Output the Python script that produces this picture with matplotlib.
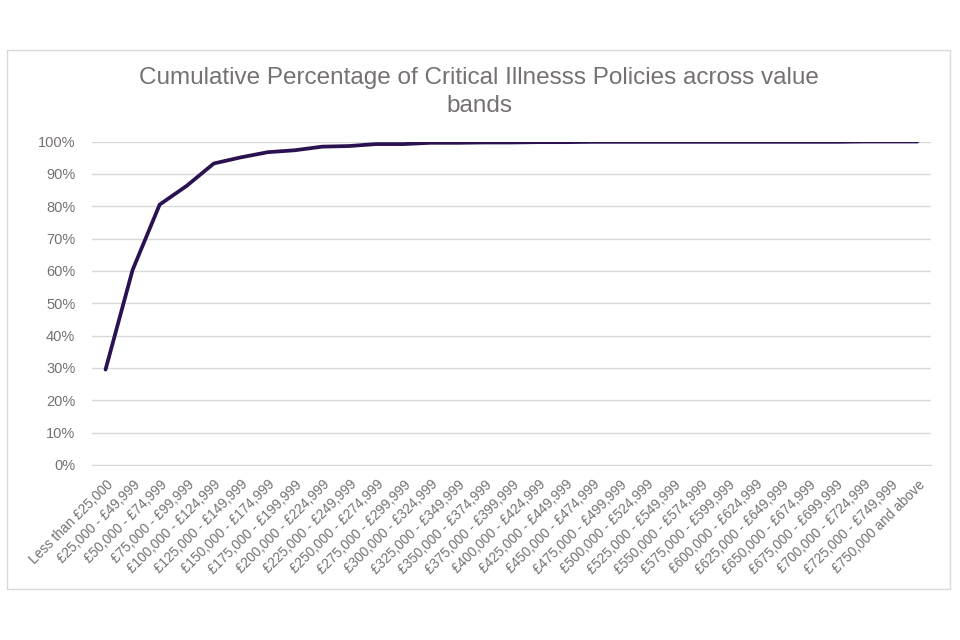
import matplotlib.pyplot as plt
from matplotlib.patches import Rectangle
from matplotlib.ticker import PercentFormatter

# value bands
bands = ['Less than £25,000']
lows = list(range(25, 750, 25))
for lo in lows:
    bands.append('£%d,000 - £%d,999' % (lo, lo + 24))
bands.append('£750,000 and above')

# cumulative share
cum_pct = [0.295, 0.603, 0.805, 0.863, 0.932, 0.951, 0.967, 0.973, 0.984, 0.986,
           0.992, 0.992, 0.996, 0.996, 0.997, 0.997, 0.998, 0.998, 0.999, 0.999,
           0.999, 0.999, 0.999, 0.999, 0.999, 0.999, 0.999, 0.999, 1.0, 1.0, 1.0]

plt.rcParams['font.family'] = ['Liberation Sans', 'DejaVu Sans']
text_col = '#767171'

fig = plt.figure(figsize=(9.6, 6.4), dpi=100)
# chart border
fig.patches.append(Rectangle((7 / 960, 1 - 589 / 640), 943 / 960, 539 / 640,
                             transform=fig.transFigure, fill=False,
                             edgecolor='#d9d9d9', linewidth=1))

ax = fig.add_axes([92 / 960, 1 - 465 / 640, 839 / 960, 323.5 / 640])
x = list(range(len(bands)))
ax.plot(x, cum_pct, color='#2a1150', linewidth=2.7, solid_joinstyle='round',
        solid_capstyle='round')

ax.set_xlim(-0.5, len(bands) - 0.5)
ax.set_ylim(0, 1)
ax.set_yticks([i / 10 for i in range(11)])
ax.yaxis.set_major_formatter(PercentFormatter(1.0, decimals=0))
ax.grid(axis='y', color='#d9d9d9', linewidth=1)
ax.set_axisbelow(True)
for s in ['top', 'right', 'left']:
    ax.spines[s].set_visible(False)
ax.spines['bottom'].set_color('#d9d9d9')

ax.set_xticks(x)
ax.set_xticklabels(bands, rotation=45, ha='right', va='top',
                   rotation_mode='anchor', fontsize=9.8, color=text_col)
ax.tick_params(axis='x', length=0, pad=9)
ax.tick_params(axis='y', length=0, labelsize=10.5, labelcolor=text_col, pad=12)

fig.text(479 / 960, 1 - 92 / 640,
         'Cumulative Percentage of Critical Illnesss Policies across value\nbands',
         ha='center', va='center', fontsize=17.5, color=text_col, linespacing=1.3)

plt.savefig('out.png', dpi=100)
